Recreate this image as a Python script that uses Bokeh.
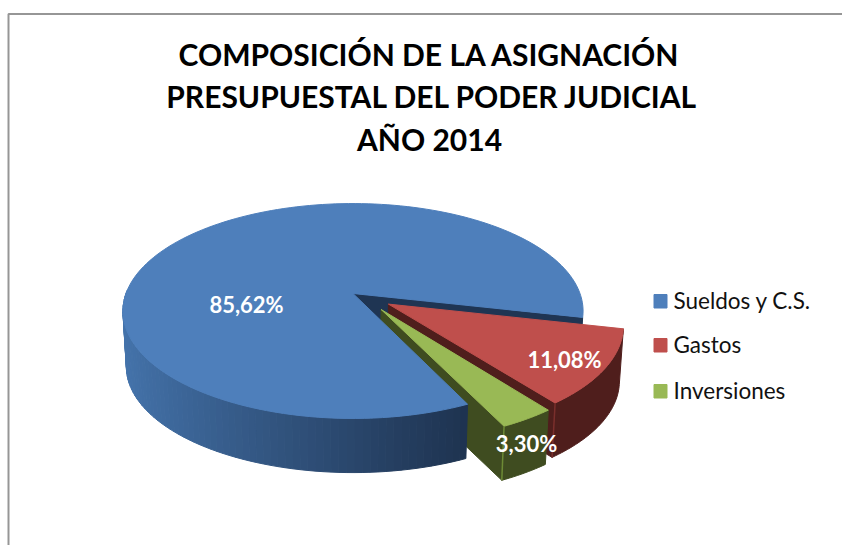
import math
from bokeh.plotting import figure
from bokeh.models import Range1d
from bokeh.core.properties import value
from bokeh.embed import file_html
from bokeh.resources import INLINE

title_lines = ["COMPOSICIÓN DE LA ASIGNACIÓN", "PRESUPUESTAL DEL PODER JUDICIAL", "AÑO 2014"]
categories = ["Sueldos y C.S.", "Gastos", "Inversiones"]
shares = [85.62, 11.08, 3.30]

top_colors = ["#4e7fbb", "#bf4f4c", "#99b955"]
side_colors = ["#1f3553", "#4f1e1c", "#3f4c20"]
edge_colors = ["#1f3553", "#7a2f2c", "#6d8a35"]
explode_dist = [0.0, 0.183, 0.192]
explode_dir = [0.0, 33.0, 51.0]
label_pos = [(246, 304), (564, 359), (526, 443)]
legend_y = [300, 344, 390]
title_pos = [(429, 53), (432, 95), (429, 138)]

START = 64.5
AX, AY = 352.5, 293.0
RX, RY, K = 227.0, 104.6, 0.163
SCALE_B, DEPTH = 0.985, 56.0


def project(u, v, low=False):
    w = 1 - K * v
    X, Y = RX * u / w, RY * v / w
    if low:
        return AX + SCALE_B * X, AY + SCALE_B * Y + DEPTH
    return AX + X, AY + Y


def offset(i):
    a = math.radians(explode_dir[i])
    return explode_dist[i] * math.cos(a), explode_dist[i] * math.sin(a)


def rim(i, deg, low=False):
    ox, oy = offset(i)
    a = math.radians(deg)
    return project(ox + math.cos(a), oy + math.sin(a), low)


def steps(a0, a1, n):
    return [a0 + (a1 - a0) * j / n for j in range(n + 1)]


spans = []
cur = START
for s in shares:
    spans.append((cur, cur + s * 3.6))
    cur += s * 3.6

p = figure(width=842, height=545, output_backend="svg", toolbar_location=None,
           x_range=Range1d(0, 842), y_range=Range1d(545, 0), min_border=0,
           outline_line_color=None, background_fill_color="white")
p.axis.visible = False
p.grid.visible = False


def poly(pts, color, lc=None):
    p.patch([q[0] for q in pts], [q[1] for q in pts], fill_color=color,
            line_color=lc or color, line_width=1)


def wall(i, deg):
    ox, oy = offset(i)
    poly([project(ox, oy), rim(i, deg), rim(i, deg, True), project(ox, oy, True)], side_colors[i])


def side(i, a0, a1, n=40):
    angs = steps(a0, a1, n)
    poly([rim(i, x) for x in angs] + [rim(i, x, True) for x in reversed(angs)], side_colors[i])


def top(i):
    ox, oy = offset(i)
    angs = steps(spans[i][0], spans[i][1], 160 if i == 0 else 30)
    poly([project(ox, oy)] + [rim(i, x) for x in angs], top_colors[i])


# frame
p.line([8, 8, 842], [545, 13.5, 13.5], line_color="#969696", line_width=2)

# back walls and side faces, then the tops
wall(0, spans[0][1])
wall(1, spans[1][1])
side(1, spans[1][0], spans[1][1])
wall(2, spans[2][1])
side(2, spans[2][0], spans[2][1], 12)

# shaded side of the large slice
left_rgb, right_rgb = (0x44, 0x73, 0xab), (0x1e, 0x33, 0x50)
angs = steps(START, 182, 70)
for a0, a1 in zip(angs[:-1], angs[1:]):
    x = rim(0, a0)[0]
    t = min(1, max(0, (x - 122) / (470 - 122)))
    t = t ** 0.9
    c = "#%02x%02x%02x" % tuple(round(l + (r - l) * t) for l, r in zip(left_rgb, right_rgb))
    poly([rim(0, a0), rim(0, a1), rim(0, a1, True), rim(0, a0, True)], c)

for i in range(3):
    top(i)

# lit corners of the exploded slices
for i, deg in ((1, spans[1][1]), (2, spans[2][1])):
    a, b = rim(i, deg), rim(i, deg, True)
    p.line([a[0], b[0]], [a[1], b[1]], line_color=edge_colors[i], line_width=1.5)

# data labels
for s, (x, y) in zip(shares, label_pos):
    p.text([x], [y], text=[f"{s:.2f}%".replace(".", ",")], text_color="white",
           text_font=value("Lato"), text_font_style="bold", text_font_size="22px",
           text_align="center", text_baseline="middle")

# title
for line, (x, y) in zip(title_lines, title_pos):
    p.text([x], [y], text=[line], text_color="black", text_font=value("Lato"),
           text_font_style="bold", text_font_size="30px", text_align="center",
           text_baseline="middle")

# legend
for name, c, y in zip(categories, top_colors, legend_y):
    p.quad(left=[653.5], right=[666.5], top=[y - 6], bottom=[y + 7.5], fill_color=c,
           line_color=c, line_width=1)
    p.text([673], [y], text=[name], text_color="#111111", text_font=value("Lato"),
           text_font_size="22.5px", text_align="left", text_baseline="middle")

open("out.html", "w").write(file_html(p, INLINE))
